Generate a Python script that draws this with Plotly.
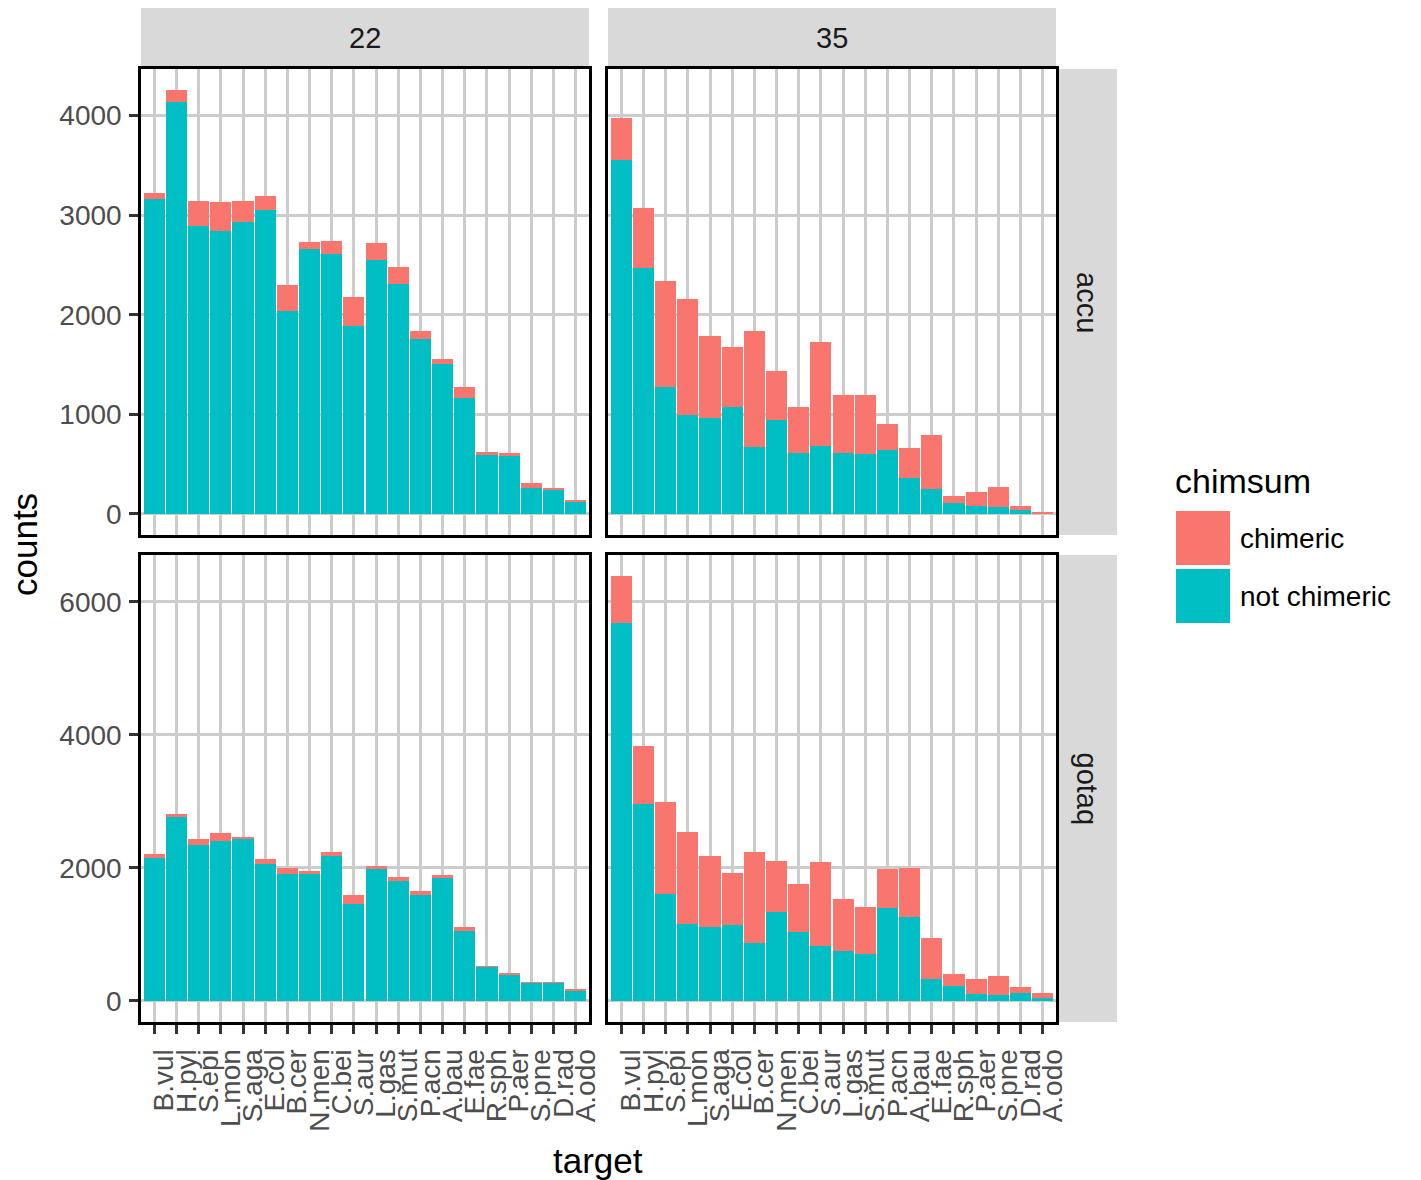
import plotly.graph_objects as go

# ---------------- data ----------------
targets = ["B.vul", "H.pyl", "S.epi", "L.mon", "S.aga", "E.col", "B.cer", "N.men", "C.bei", "S.aur",
           "L.gas", "S.mut", "P.acn", "A.bau", "E.fae", "R.sph", "P.aer", "S.pne", "D.rad", "A.odo"]

col_labels = ["22", "35"]
row_labels = ["accu", "gotaq"]

accu_22_not = [3165, 4135, 2895, 2845, 2935, 3055, 2035, 2655, 2605, 1885, 2545, 2305, 1755, 1505, 1165, 595, 585, 255, 245, 125]
accu_22_chim = [55, 120, 250, 285, 210, 140, 260, 80, 135, 295, 175, 175, 80, 55, 105, 30, 25, 50, 5, 10]

accu_35_not = [3555, 2465, 1275, 995, 965, 1075, 675, 945, 615, 685, 615, 605, 645, 355, 245, 105, 75, 65, 35, 8]
accu_35_chim = [420, 605, 1060, 1160, 825, 600, 1160, 485, 460, 1045, 580, 585, 255, 310, 545, 75, 140, 205, 40, 15]

gotaq_22_not = [2140, 2770, 2350, 2410, 2430, 2050, 1900, 1920, 2170, 1450, 1980, 1800, 1590, 1860, 1050, 510, 400, 270, 270, 160]
gotaq_22_chim = [60, 45, 90, 120, 40, 75, 90, 25, 75, 135, 40, 55, 55, 25, 55, 10, 15, 10, 10, 15]

gotaq_35_not = [5680, 2965, 1600, 1150, 1110, 1140, 870, 1330, 1030, 820, 750, 700, 1390, 1260, 330, 220, 100, 90, 120, 40]
gotaq_35_chim = [705, 870, 1395, 1395, 1060, 775, 1375, 765, 720, 1260, 775, 705, 585, 730, 610, 180, 225, 280, 85, 75]

accu_ticks = [0, 1000, 2000, 3000, 4000]
gotaq_ticks = [0, 2000, 4000, 6000]

legend_labels = ["chimeric", "not chimeric"]
legend_title = "chimsum"

# ---------------- style ----------------
W, H = 1421, 1180
C_CHIM = "#F8766D"
C_NOT = "#00BFC4"
GRID = "#CCCCCC"
STRIP = "#D9D9D9"
FONT = "Liberation Sans"
LABEL_SHIFT = 0.45  # ggplot vjust=1 on rotated labels -> labels sit right of tick


def fx(p):
    return p / W


def fy(p):
    return 1 - p / H


col_dom = [(141, 589), (608, 1056)]
row_dom = [(69, 535), (555, 1022)]

data = {
    (0, 0): (accu_22_not, accu_22_chim),
    (0, 1): (accu_35_not, accu_35_chim),
    (1, 0): (gotaq_22_not, gotaq_22_chim),
    (1, 1): (gotaq_35_not, gotaq_35_chim),
}
row_ticks = [accu_ticks, gotaq_ticks]

fig = go.Figure()
layout = dict(
    width=W, height=H,
    margin=dict(l=0, r=0, t=0, b=0),
    paper_bgcolor="white", plot_bgcolor="white",
    barmode="stack", showlegend=False,
    font=dict(family=FONT, color="#1A1A1A"),
)
xrange = [-0.6, len(targets) - 0.4]

for r in range(2):
    row_max = max(max(n + c for n, c in zip(*data[(r, cc)])) for cc in range(2))
    yrange = [-0.05 * row_max, 1.05 * row_max]
    for c in range(2):
        i = r * 2 + c + 1
        sfx = "" if i == 1 else str(i)
        nv, cv = data[(r, c)]
        fig.add_trace(go.Bar(x=targets, y=nv, name="not chimeric", marker=dict(color=C_NOT, line=dict(width=0)),
                             width=0.95, xaxis="x" + sfx, yaxis="y" + sfx))
        fig.add_trace(go.Bar(x=targets, y=cv, name="chimeric", marker=dict(color=C_CHIM, line=dict(width=0)),
                             width=0.95, xaxis="x" + sfx, yaxis="y" + sfx))
        x0, x1 = col_dom[c]
        y0, y1 = row_dom[r]
        layout["xaxis" + sfx] = dict(
            domain=[fx(x0), fx(x1)], anchor="y" + sfx,
            type="category", categoryorder="array", categoryarray=targets,
            tickmode="array", tickvals=targets, ticktext=targets,
            range=xrange,
            showgrid=True, gridcolor=GRID, gridwidth=3,
            showline=True, mirror=True, linecolor="black", linewidth=2.5,
            ticks="outside" if r == 1 else "", ticklen=9, tickwidth=2.5, tickcolor="#333333",
            showticklabels=False,
            zeroline=False, automargin=False, fixedrange=True,
        )
        layout["yaxis" + sfx] = dict(
            domain=[fy(y1), fy(y0)], anchor="x" + sfx,
            range=yrange, tickmode="array", tickvals=row_ticks[r], ticktext=[str(t) for t in row_ticks[r]],
            showgrid=True, gridcolor=GRID, gridwidth=3,
            showline=True, mirror=True, linecolor="black", linewidth=2.5,
            ticks="outside" if c == 0 else "", ticklen=9, tickwidth=2.5, tickcolor="#333333",
            showticklabels=(c == 0),
            tickfont=dict(family=FONT, size=28, color="#4D4D4D"),
            ticklabelstandoff=2,
            zeroline=False, automargin=False, fixedrange=True,
        )
        if r == 1:
            # label-only overlay axis (labels offset to the right like ggplot's rotated text)
            j = i + 2
            layout["xaxis%d" % j] = dict(
                domain=[fx(x0), fx(x1)], anchor="y" + sfx, overlaying="x" + sfx,
                type="category", categoryorder="array", categoryarray=targets,
                tickmode="array", tickvals=targets, ticktext=targets,
                range=[xrange[0] - LABEL_SHIFT, xrange[1] - LABEL_SHIFT],
                showgrid=False, showline=False, ticks="outside", ticklen=9, tickcolor="rgba(0,0,0,0)",
                showticklabels=True, tickangle=-90,
                tickfont=dict(family=FONT, size=28, color="#4D4D4D"),
                ticklabelstandoff=6,
                zeroline=False, automargin=False, fixedrange=True,
            )
            fig.add_trace(go.Scatter(x=targets, y=[None] * len(targets), mode="markers",
                                     hoverinfo="skip", xaxis="x%d" % j, yaxis="y" + sfx, showlegend=False))

shapes = []
annotations = []

# top strips
for c, lab in enumerate(col_labels):
    x0, x1 = col_dom[c]
    shapes.append(dict(type="rect", xref="paper", yref="paper", x0=fx(x0), x1=fx(x1), y0=fy(67), y1=fy(8),
                       fillcolor=STRIP, line=dict(width=0), layer="below"))
    annotations.append(dict(text=lab, xref="paper", yref="paper", x=fx((x0 + x1) / 2), y=fy(38),
                            showarrow=False, font=dict(family=FONT, size=29, color="#1A1A1A"),
                            xanchor="center", yanchor="middle"))
# right strips
for r, lab in enumerate(row_labels):
    y0, y1 = row_dom[r]
    shapes.append(dict(type="rect", xref="paper", yref="paper", x0=fx(1058), x1=fx(1117), y0=fy(y1), y1=fy(y0),
                       fillcolor=STRIP, line=dict(width=0), layer="below"))
    annotations.append(dict(text=lab, xref="paper", yref="paper", x=fx(1087), y=fy((y0 + y1) / 2),
                            showarrow=False, textangle=90, font=dict(family=FONT, size=29, color="#1A1A1A"),
                            xanchor="center", yanchor="middle"))

# axis titles
annotations.append(dict(text="counts", xref="paper", yref="paper", x=fx(24), y=fy(545), textangle=-90,
                        showarrow=False, font=dict(family=FONT, size=35, color="black"),
                        xanchor="center", yanchor="middle"))
annotations.append(dict(text="target", xref="paper", yref="paper", x=fx(598), y=fy(1160),
                        showarrow=False, font=dict(family=FONT, size=35, color="black"),
                        xanchor="center", yanchor="middle"))

# legend (drawn manually to match big ggplot keys)
annotations.append(dict(text=legend_title, xref="paper", yref="paper", x=fx(1173), y=fy(481),
                        showarrow=False, font=dict(family=FONT, size=34, color="black"),
                        xanchor="left", yanchor="middle"))
for k, (lab, col) in enumerate(zip(legend_labels, [C_CHIM, C_NOT])):
    top = 511 + k * 58
    shapes.append(dict(type="rect", xref="paper", yref="paper", x0=fx(1176), x1=fx(1230),
                       y0=fy(top + 54), y1=fy(top), fillcolor=col, line=dict(width=0)))
    annotations.append(dict(text=lab, xref="paper", yref="paper", x=fx(1238), y=fy(top + 27),
                            showarrow=False, font=dict(family=FONT, size=28, color="black"),
                            xanchor="left", yanchor="middle"))

layout["shapes"] = shapes
layout["annotations"] = annotations
fig.update_layout(**layout)
fig.write_html("out.html")
